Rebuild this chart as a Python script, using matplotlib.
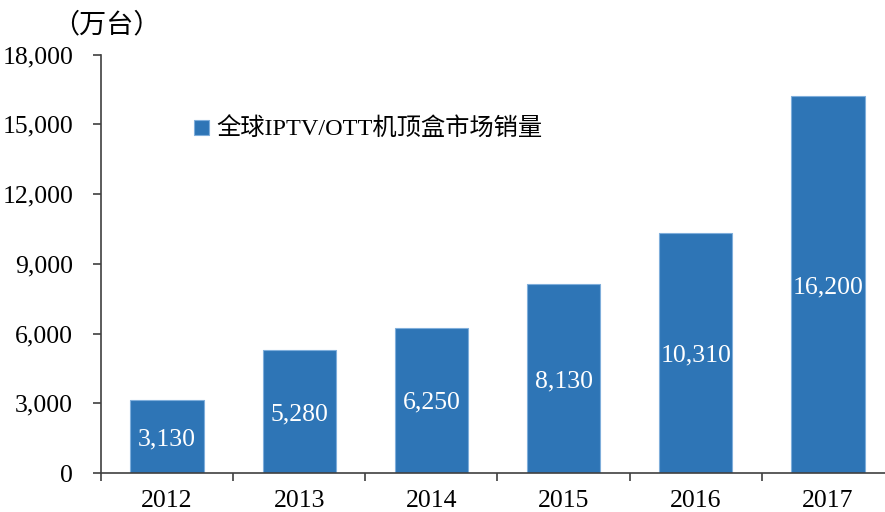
import numpy as np
import matplotlib
matplotlib.use("Agg")
import matplotlib.pyplot as plt
from matplotlib.ticker import FuncFormatter

plt.rcParams['font.family'] = ['Liberation Serif', 'Noto Sans CJK SC']

years = ['2012', '2013', '2014', '2015', '2016', '2017']
sales = [3130, 5280, 6250, 8130, 10310, 16200]
bar_labels = ['3,130', '5,280', '6,250', '8,130', '10,310', '16,200']
series_name = '全球IPTV/OTT机顶盒市场销量'
unit = '（万台）'

color = '#2E75B6'

fig = plt.figure(figsize=(8.85, 5.12), dpi=100)
ax = fig.add_axes([101 / 885, 39 / 512, 793 / 885, 418.5 / 512])

x = np.arange(len(years))
bars = ax.bar(x, sales, width=0.555, color=color, edgecolor='#7FAEDB',
              linewidth=0.8, label=series_name, zorder=2)

for xi, v, lab in zip(x, sales, bar_labels):
    ax.text(xi, v / 2, lab, ha='center', va='center_baseline', color='white',
            fontsize=18.5)

ax.set_xlim(-0.5, len(years) - 0.5)
ax.set_ylim(0, 18000)
ax.set_yticks(np.arange(0, 18001, 3000))
ax.yaxis.set_major_formatter(FuncFormatter(lambda v, p: f'{int(v):,}'))

# category boundary ticks, labels at centers
ax.set_xticks(np.arange(-0.5, len(years) + 0.5, 1))
ax.set_xticklabels([])
ax.set_xticks(x, minor=True)
ax.set_xticklabels(years, minor=True)
ax.tick_params(axis='x', which='major', direction='out', length=6, width=1.2, color='#404040')
ax.tick_params(axis='x', which='minor', length=0, pad=12, labelsize=18.5)
ax.tick_params(axis='y', direction='out', length=6, width=1.2, color='#404040',
               labelsize=18.5, pad=14)

for s in ['top', 'right']:
    ax.spines[s].set_visible(False)
for s in ['left', 'bottom']:
    ax.spines[s].set_color('#404040')
    ax.spines[s].set_linewidth(1.2)

ax.legend(loc='upper left', bbox_to_anchor=(0.09, 0.9), frameon=False,
          fontsize=17.5, handlelength=0.6, handleheight=0.6, handletextpad=0.3)

fig.text(52 / 885, 1 - 26 / 512, unit, fontsize=19.5, va='center', ha='left')

fig.savefig('out.png', dpi=100)
